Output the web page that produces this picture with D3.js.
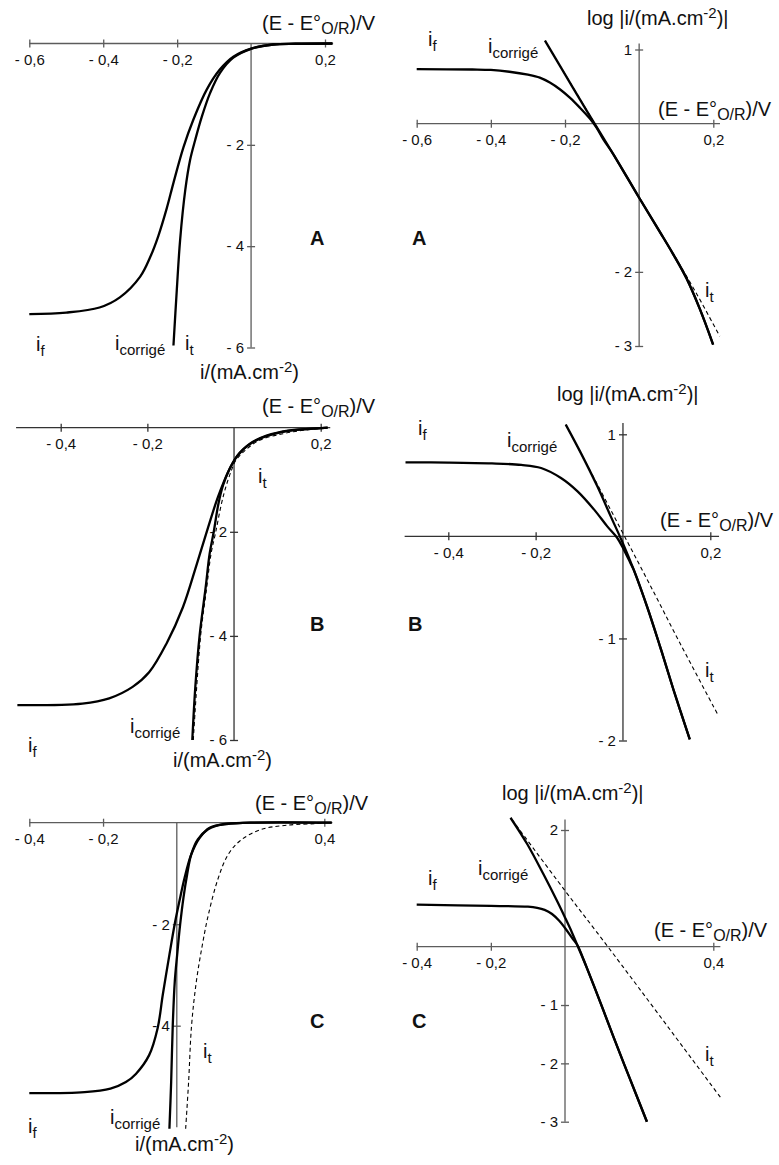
<!DOCTYPE html>
<html>
<head>
<meta charset="utf-8">
<script src="https://cdn.jsdelivr.net/npm/d3@7"></script>
<style>
body { margin: 0; background: #fff; }
svg { display: block; font-family: "Liberation Sans", Arial, sans-serif; }
</style>
</head>
<body>
<svg id="chart" width="779" height="1165"></svg>
<script>
var linA_f = [[-0.60,-5.34],[-0.50,-5.31],[-0.41,-5.21],[-0.355,-5.01],[-0.30,-4.60],[-0.272,-4.20],[-0.251,-3.80],[-0.228,-3.25],[-0.21,-2.75],[-0.183,-2.05],[-0.156,-1.50],[-0.12,-0.91],[-0.084,-0.51],[-0.048,-0.26],[0,-0.10],[0.06,-0.02],[0.12,-0.005],[0.22,0]];
var linA_corr = [[-0.210,-5.96],[-0.201,-4.87],[-0.192,-3.88],[-0.178,-2.89],[-0.165,-2.30],[-0.151,-1.90],[-0.133,-1.44],[-0.111,-0.98],[-0.084,-0.58],[-0.048,-0.28],[0,-0.105],[0.06,-0.02],[0.12,-0.005],[0.22,0]];

var linB_f = [[-0.50,-5.33],[-0.35,-5.30],[-0.288,-5.20],[-0.234,-4.98],[-0.196,-4.70],[-0.156,-4.15],[-0.118,-3.45],[-0.087,-2.65],[-0.060,-1.92],[-0.037,-1.33],[-0.010,-0.79],[0.013,-0.48],[0.052,-0.24],[0.113,-0.08],[0.20,-0.01],[0.216,0]];
var linB_corr = [[-0.0963,-6.0],[-0.0894,-4.99],[-0.0794,-3.99],[-0.0655,-3.07],[-0.0563,-2.42],[-0.047,-2.01],[-0.036,-1.46],[-0.0255,-1.11],[-0.012,-0.82],[0.0055,-0.565],[0.036,-0.31],[0.075,-0.15],[0.129,-0.05],[0.20,-0.01],[0.216,0]];
var linB_t = [[-0.094,-6.0],[-0.077,-3.99],[-0.063,-3.07],[-0.053,-2.42],[-0.0424,-2.01],[-0.029,-1.46],[-0.019,-1.14],[-0.006,-0.82],[0.004,-0.63],[0.025,-0.44],[0.059,-0.24],[0.113,-0.115],[0.160,-0.05],[0.214,0]];

var linC_f = [[-0.40,-5.33],[-0.25,-5.31],[-0.18,-5.24],[-0.138,-5.11],[-0.111,-4.95],[-0.075,-4.58],[-0.052,-4.05],[-0.038,-3.39],[-0.020,-2.60],[-0.006,-2.01],[0.007,-1.55],[0.021,-1.09],[0.039,-0.63],[0.062,-0.30],[0.089,-0.10],[0.135,-0.03],[0.20,0],[0.42,0]];
var linC_corr = [[-0.020,-6.03],[-0.0153,-5.11],[-0.011,-4.0],[-0.0055,-3.13],[0.001,-2.60],[0.009,-2.01],[0.018,-1.48],[0.028,-1.02],[0.039,-0.63],[0.057,-0.33],[0.085,-0.13],[0.125,-0.03],[0.20,0],[0.42,0]];
var linC_t = [[0.024,-6.03],[0.032,-5.11],[0.040,-4.0],[0.053,-3.13],[0.069,-2.42],[0.086,-1.80],[0.112,-1.10],[0.139,-0.63],[0.171,-0.36],[0.2255,-0.14],[0.298,-0.05],[0.389,-0.012],[0.40,0]];

var logA_f = [[-0.60,0.734],[-0.45,0.73],[-0.40,0.724],[-0.35,0.70],[-0.30,0.66],[-0.268,0.62],[-0.241,0.554],[-0.214,0.464],[-0.187,0.351],[-0.160,0.216],[-0.133,0.068],[-0.115,-0.054],[-0.097,-0.21],[-0.070,-0.41],[0,-1.0],[0.0558,-1.46],[0.0916,-1.76],[0.128,-2.09],[0.1636,-2.50],[0.1995,-2.98]];
var logA_corr = [[-0.254,1.12],[-0.178,0.48],[-0.124,0.03],[-0.070,-0.41],[0,-1.0],[0.0558,-1.46],[0.0916,-1.76],[0.128,-2.09],[0.1636,-2.50],[0.1995,-2.98]];
var logA_t = [[-0.254,1.12],[0,-1.0],[0.0916,-1.76],[0.128,-2.06],[0.17,-2.43],[0.2175,-2.87]];

var logB_f = [[-0.498,0.725],[-0.40,0.723],[-0.30,0.715],[-0.233,0.70],[-0.1875,0.67],[-0.142,0.572],[-0.104,0.441],[-0.066,0.262],[-0.036,0.098],[-0.013,-0.016],[0.002,-0.13],[0.017,-0.26],[0.0245,-0.326],[0.055,-0.686],[0.085,-1.08],[0.1155,-1.50],[0.153,-1.99]];
var logB_corr = [[-0.131,1.095],[-0.0966,0.818],[-0.0587,0.49],[-0.028,0.196],[-0.002,-0.05],[0.0245,-0.326],[0.055,-0.686],[0.085,-1.08],[0.1155,-1.50],[0.153,-1.99]];
var logB_t = [[-0.131,1.095],[-0.06,0.52],[0,0.03],[0.06,-0.46],[0.131,-1.05],[0.2177,-1.75]];

var logC_f = [[-0.40,0.72],[-0.20,0.70],[-0.10,0.685],[-0.075,0.665],[-0.055,0.63],[-0.035,0.56],[-0.015,0.44],[0.0,0.32],[0.019,0.15],[0.034,0.02],[0.05,-0.22],[0.06,-0.38],[0.095,-0.95],[0.131,-1.55],[0.176,-2.28],[0.221,-3.0]];
var logC_corr = [[-0.147,2.21],[-0.102,1.76],[-0.058,1.24],[-0.022,0.79],[0.0,0.50],[0.019,0.24],[0.037,-0.03],[0.06,-0.38],[0.095,-0.95],[0.131,-1.55],[0.176,-2.28],[0.221,-3.0]];
var logC_t = [[-0.143,2.18],[0,0.96],[0.118,-0.02],[0.419,-2.58]];

// tick values
var xTicksA = [-0.6,-0.4,-0.2,0.2];
var xTicksB = [-0.4,-0.2,0.2];
var xTicksC = [-0.4,-0.2,0.4];
var yTicksLinAB = [-2,-4,-6];
var yTicksLinC = [-2,-4];
var yTicksLogA = [1,-2,-3];
var yTicksLogB = [1,-1,-2];
var yTicksLogC = [2,-1,-2,-3];

// ---- layout
var panels = [
  { letter: "A", kind: "lin", xDom: [-0.6,0.2], xRange: [29.3,325], yDom: [0,-6], yRange: [43.5,347.5],
    xExt: [-0.6,0.222], yExt: [0,-6], xTicks: xTicksA, yTicks: yTicksLinAB, axisColor: "#5c5c5c",
    curves: [{d: linA_f}, {d: linA_corr}],
    eTitle: [262,30], iTitle: [200,379], letterPos: [310,245],
    lab: {f: [36,351], corr: [115,350], t: [185,350]} },
  { letter: "A", kind: "log", xDom: [-0.6,0.2], xRange: [416.7,713.3], yDom: [1,-3], yRange: [49.5,346],
    xExt: [-0.6,0.218], yExt: [1.08,-3], xTicks: xTicksA, yTicks: yTicksLogA, axisColor: "#5c5c5c",
    curves: [{d: logA_t, dash: true}, {d: logA_f}, {d: logA_corr}],
    eTitle: [658,116], iTitle: [587,25], letterPos: [412,245],
    lab: {f: [428,46], corr: [488,53], t: [705,297]} },
  { letter: "B", kind: "lin", xDom: [-0.4,0.2], xRange: [60.7,320.7], yDom: [0,-6], yRange: [427.7,740],
    xExt: [-0.503,0.222], yExt: [0,-6], xTicks: xTicksB, yTicks: yTicksLinAB, axisColor: "#333",
    curves: [{d: linB_t, dash: true}, {d: linB_f}, {d: linB_corr}],
    eTitle: [262,413], iTitle: [173,767], letterPos: [310,631],
    lab: {f: [28,752], corr: [130,733], t: [258,483]} },
  { letter: "B", kind: "log", xDom: [-0.4,0.2], xRange: [448.3,710.3], yDom: [1,-2], yRange: [434.3,740.5],
    xExt: [-0.5,0.22], yExt: [1.11,-2], xTicks: xTicksB, yTicks: yTicksLogB, axisColor: "#333",
    curves: [{d: logB_t, dash: true}, {d: logB_f}, {d: logB_corr}],
    eTitle: [660,527], iTitle: [557,401], letterPos: [408,631],
    lab: {f: [418,435], corr: [507,447], t: [705,677]} },
  { letter: "C", kind: "lin", xDom: [-0.4,0.4], xRange: [29.3,324.3], yDom: [0,-4], yRange: [822.7,1025.7],
    xExt: [-0.4,0.422], yExt: [0,-6], xTicks: xTicksC, yTicks: yTicksLinC, axisColor: "#5c5c5c",
    curves: [{d: linC_t, dash: true}, {d: linC_f}, {d: linC_corr}],
    eTitle: [255,810], iTitle: [135,1151], letterPos: [310,1028],
    lab: {f: [28,1133], corr: [110,1124], t: [203,1058]} },
  { letter: "C", kind: "log", xDom: [-0.4,0.4], xRange: [416.7,713.3], yDom: [2,-3], yRange: [830,1121.7],
    xExt: [-0.4,0.419], yExt: [2.18,-3], xTicks: xTicksC, yTicks: yTicksLogC, axisColor: "#5c5c5c",
    curves: [{d: logC_t, dash: true}, {d: logC_f}, {d: logC_corr}],
    eTitle: [654,937], iTitle: [502,800], letterPos: [412,1028],
    lab: {f: [428,885], corr: [478,875], t: [705,1061]} }
];

var svg = d3.select("#chart");

function fmtTick(v) {
  var a = Math.abs(v);
  var s = (a % 1 !== 0) ? d3.format(".1f")(a).replace(".", ",") : String(a);
  return (v < 0 ? "- " : "") + s;
}

function eTitle(g, pos) {
  var t = g.append("text").attr("x", pos[0]).attr("y", pos[1]).attr("font-size", 20).attr("fill", "#111");
  t.append("tspan").text("(E - E°");
  t.append("tspan").attr("font-size", 16).attr("dy", 4).text("O/R");
  t.append("tspan").attr("dy", -4).text(")/V");
}

function iTitle(g, pos, isLog) {
  var t = g.append("text").attr("x", pos[0]).attr("y", pos[1]).attr("font-size", 20).attr("fill", "#111");
  t.append("tspan").text((isLog ? "log |" : "") + "i/(mA.cm");
  t.append("tspan").attr("font-size", 15).attr("dy", -7).text("-2");
  t.append("tspan").attr("dy", 7).text(")" + (isLog ? "|" : ""));
}

function curveLabel(g, pos, sub) {
  var t = g.append("text").attr("x", pos[0]).attr("y", pos[1]).attr("font-size", 20).attr("fill", "#111");
  t.append("tspan").text("i");
  t.append("tspan").attr("font-size", 15).attr("dy", 5).text(sub);
}

panels.forEach(function(p) {
  var x = d3.scaleLinear().domain(p.xDom).range(p.xRange);
  var y = d3.scaleLinear().domain(p.yDom).range(p.yRange);
  var g = svg.append("g");

  // axes lines
  g.append("line")
    .attr("x1", x(p.xExt[0])).attr("x2", x(p.xExt[1]))
    .attr("y1", y(0)).attr("y2", y(0))
    .attr("stroke", p.axisColor).attr("stroke-width", 1.3);
  g.append("line")
    .attr("x1", x(0)).attr("x2", x(0))
    .attr("y1", y(p.yExt[0])).attr("y2", y(p.yExt[1]))
    .attr("stroke", p.axisColor).attr("stroke-width", 1.3);

  var gx = g.append("g")
    .attr("transform", "translate(0," + y(0) + ")")
    .call(d3.axisBottom(x).tickValues(p.xTicks).tickSize(4).tickPadding(7).tickFormat(fmtTick));
  gx.select(".domain").remove();
  gx.attr("font-size", 15).attr("font-family", null);
  gx.selectAll(".tick line").attr("y1", -4).attr("stroke", p.axisColor).attr("stroke-width", 1.3);
  gx.selectAll(".tick text").attr("fill", "#111");

  var gy = g.append("g")
    .attr("transform", "translate(" + x(0) + ",0)")
    .call(d3.axisLeft(y).tickValues(p.yTicks).tickSize(4).tickPadding(3).tickFormat(fmtTick));
  gy.select(".domain").remove();
  gy.attr("font-size", 15).attr("font-family", null);
  gy.selectAll(".tick line").attr("x1", 4).attr("stroke", p.axisColor).attr("stroke-width", 1.3);
  gy.selectAll(".tick text").attr("fill", "#111");

  // curves
  var line = d3.line()
    .x(function(d) { return x(d[0]); })
    .y(function(d) { return y(d[1]); })
    .curve(d3.curveCatmullRom.alpha(0.5));

  p.curves.forEach(function(c) {
    g.append("path")
      .attr("d", line(c.d))
      .attr("fill", "none")
      .attr("stroke", "#000")
      .attr("stroke-width", c.dash ? 1.1 : 2.3)
      .attr("stroke-dasharray", c.dash ? "4,3" : null)
      .attr("stroke-linejoin", "round");
  });

  // texts
  eTitle(g, p.eTitle);
  iTitle(g, p.iTitle, p.kind === "log");
  g.append("text").attr("x", p.letterPos[0]).attr("y", p.letterPos[1])
    .attr("font-size", 20).attr("font-weight", "bold").attr("fill", "#111").text(p.letter);
  curveLabel(g, p.lab.f, "f");
  curveLabel(g, p.lab.corr, "corrigé");
  curveLabel(g, p.lab.t, "t");
});
</script>
</body>
</html>
